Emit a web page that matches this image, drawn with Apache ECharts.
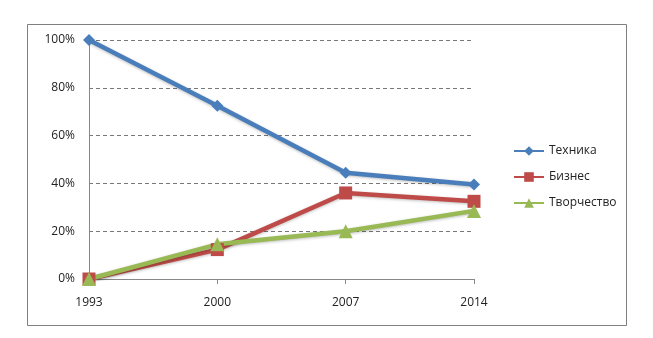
<!DOCTYPE html>
<html>
<head>
<meta charset="utf-8">
<script src="https://cdn.jsdelivr.net/npm/echarts@6/dist/echarts.min.js"></script>
<style>
  html, body { margin: 0; padding: 0; background: #fff; }
  #chart { width: 653px; height: 338px; }
</style>
</head>
<body>
<div id="chart"></div>
<script>
// Share by year, percent
const years = ['1993', '2000', '2007', '2014'];
const tehnika = [100, 72.5, 44.5, 39.5];
const biznes = [0, 12.3, 36, 32.5];
const tvorchestvo = [0, 14.5, 20, 28.5];
const yTicks = [0, 20, 40, 60, 80, 100];

const chart = echarts.init(document.getElementById('chart'));
const font = 'Open Sans, DejaVu Sans, sans-serif';

function lineSeries(name, data, color, symbol, size) {
  return {
    name: name,
    type: 'line',
    data: data,
    symbol: symbol,
    symbolSize: size,
    lineStyle: { color: color, width: 4.5, shadowColor: 'rgba(0,0,0,0.25)', shadowBlur: 3, shadowOffsetY: 1 },
    itemStyle: { color: color },
    emphasis: { disabled: true },
    animation: false
  };
}

chart.setOption({
  animation: false,
  graphic: [{
    type: 'rect',
    shape: { x: 27.5, y: 24.5, width: 599, height: 301 },
    style: { fill: 'none', stroke: '#7f7f7f', lineWidth: 1 },
    silent: true
  }],
  grid: { left: 89, top: 40, width: 385, height: 239, containLabel: false },
  legend: {
    orient: 'vertical',
    left: 508,
    top: 140,
    itemGap: 14,
    itemWidth: 30,
    itemHeight: 12,
    textStyle: { fontFamily: font, fontSize: 12, color: '#222' },
    data: ['Техника', 'Бизнес', 'Творчество']
  },
  xAxis: {
    type: 'category',
    data: years,
    boundaryGap: false,
    axisLine: { lineStyle: { color: '#888', width: 1 } },
    axisTick: { show: true, alignWithLabel: true, length: 5, lineStyle: { color: '#888' } },
    axisLabel: { fontFamily: font, fontSize: 12, color: '#222', margin: 18 },
    splitLine: { show: false }
  },
  yAxis: {
    type: 'value',
    min: yTicks[0],
    max: yTicks[yTicks.length - 1],
    interval: 20,
    axisLine: { show: true, lineStyle: { color: '#888', width: 1 } },
    axisTick: { show: false },
    axisLabel: { fontFamily: font, fontSize: 12, color: '#222', margin: 14, formatter: '{value}%' },
    splitLine: { show: true, lineStyle: { color: '#777', type: [4, 3], width: 1 } }
  },
  series: [
    lineSeries('Техника', tehnika, '#4a7ebb', 'diamond', 12),
    lineSeries('Бизнес', biznes, '#be4b48', 'rect', 13),
    lineSeries('Творчество', tvorchestvo, '#98b954', 'triangle', 14)
  ]
});
</script>
</body>
</html>
